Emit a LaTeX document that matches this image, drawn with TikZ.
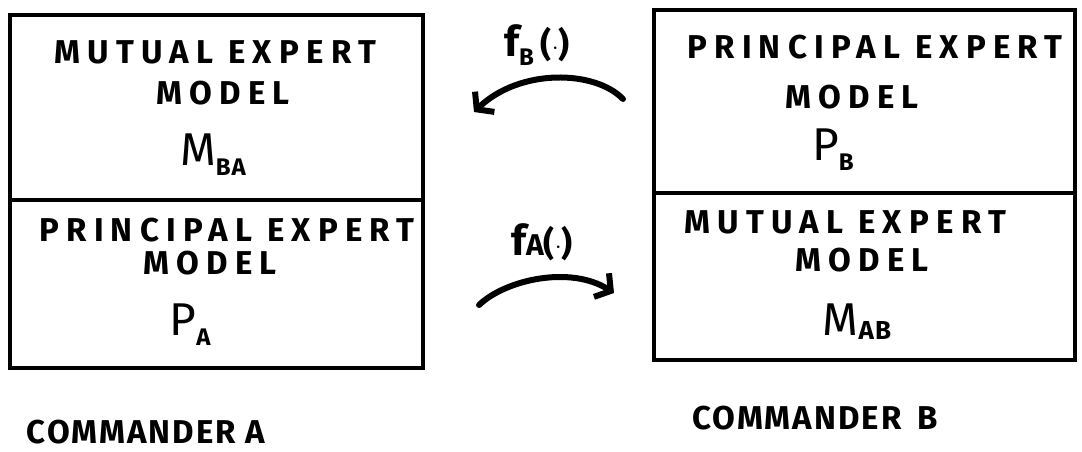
\documentclass[tikz,border=0pt]{standalone}
\usepackage{fontspec}
\setmainfont{Fira Sans}
\usetikzlibrary{arrows.meta}
\tikzset{
  box/.style={draw, line width=3.5pt, minimum width=413pt, inner sep=0pt},
  lbl/.style={font=\fontsize{33}{36}\selectfont\bfseries\addfontfeatures{LetterSpace=22}, inner sep=0pt, anchor=center},
  sym/.style={font=\fontsize{46}{50}\selectfont, inner sep=0pt},
  fun/.style={font=\fontsize{42}{46}\selectfont\bfseries, inner sep=0pt},
  cmd/.style={font=\fontsize{33}{36}\selectfont\bfseries\addfontfeatures{LetterSpace=6}, inner sep=0pt},
  flow/.style={line width=6pt, line cap=round, -{Straight Barb[length=11pt,width=28pt,line width=6pt]}}
}
\begin{document}
\begin{tikzpicture}[x=1pt,y=-1pt]
\useasboundingbox (0,0) rectangle (1082,451);
% Commander A boxes
\node[box, minimum height=185pt] (mba) at (216.5,107.5) {};
\node[box, minimum height=168pt] (pa) at (216.5,284) {};
% Commander B boxes
\node[box, minimum width=421pt, minimum height=183pt] (pb) at (864.5,101.5) {};
\node[box, minimum width=421pt, minimum height=167pt] (mab) at (864.5,276.5) {};
% texts left
\node[lbl] (t1) at (215,52) {MUTUAL EXPERT};
\node[lbl] (t2) at (223,93) {MODEL};
\node[sym] (t3) at (213,155) {M\raisebox{-10pt}{\fontsize{24}{26}\selectfont\bfseries B\kern1pt A}};
\node[lbl] (t4) at (227,230) {PRINCIPAL EXPERT};
\node[lbl] (t5) at (210,263) {MODEL};
\node[sym] (t6) at (190,325) {P\raisebox{-10pt}{\fontsize{24}{26}\selectfont\bfseries A}};
% texts right
\node[lbl] (r1) at (875,47) {PRINCIPAL EXPERT};
\node[lbl] (r2) at (852,97) {MODEL};
\node[sym] (r3) at (833,150) {P\raisebox{-10pt}{\fontsize{24}{26}\selectfont\bfseries B}};
\node[lbl] (r4) at (845,222) {MUTUAL EXPERT};
\node[lbl] (r5) at (862,260) {MODEL};
\node[sym] (r6) at (857,322) {M\raisebox{-4pt}{\fontsize{26}{28}\selectfont\bfseries A\kern1pt B}};
% function labels
\node[fun] (fb) at (537,45) {f\raisebox{-9pt}{\fontsize{24}{26}\selectfont B}\,{\fontsize{34}{36}\selectfont(\raisebox{2pt}{$\cdot$})}};
\node[fun] (fa) at (542,242) {f{\fontsize{30}{32}\selectfont A}{\fontsize{34}{36}\selectfont(\raisebox{2pt}{$\cdot$})}};
% arrows
\coordinate (b1) at (623,99);
\coordinate (b2) at (474,112);
\coordinate (a1) at (479,305);
\coordinate (a2) at (614,293);
\draw[flow] (b1) .. controls (595,70) and (520,68) .. (b2);
\draw[flow] (a1) .. controls (505,280) and (570,265) .. (a2);
% commanders
\node[cmd] (ca) at (146,432) {COMMANDER A};
\node[cmd] (cb) at (815,418) {COMMANDER\hspace{16pt}B};
\end{tikzpicture}
\end{document}
